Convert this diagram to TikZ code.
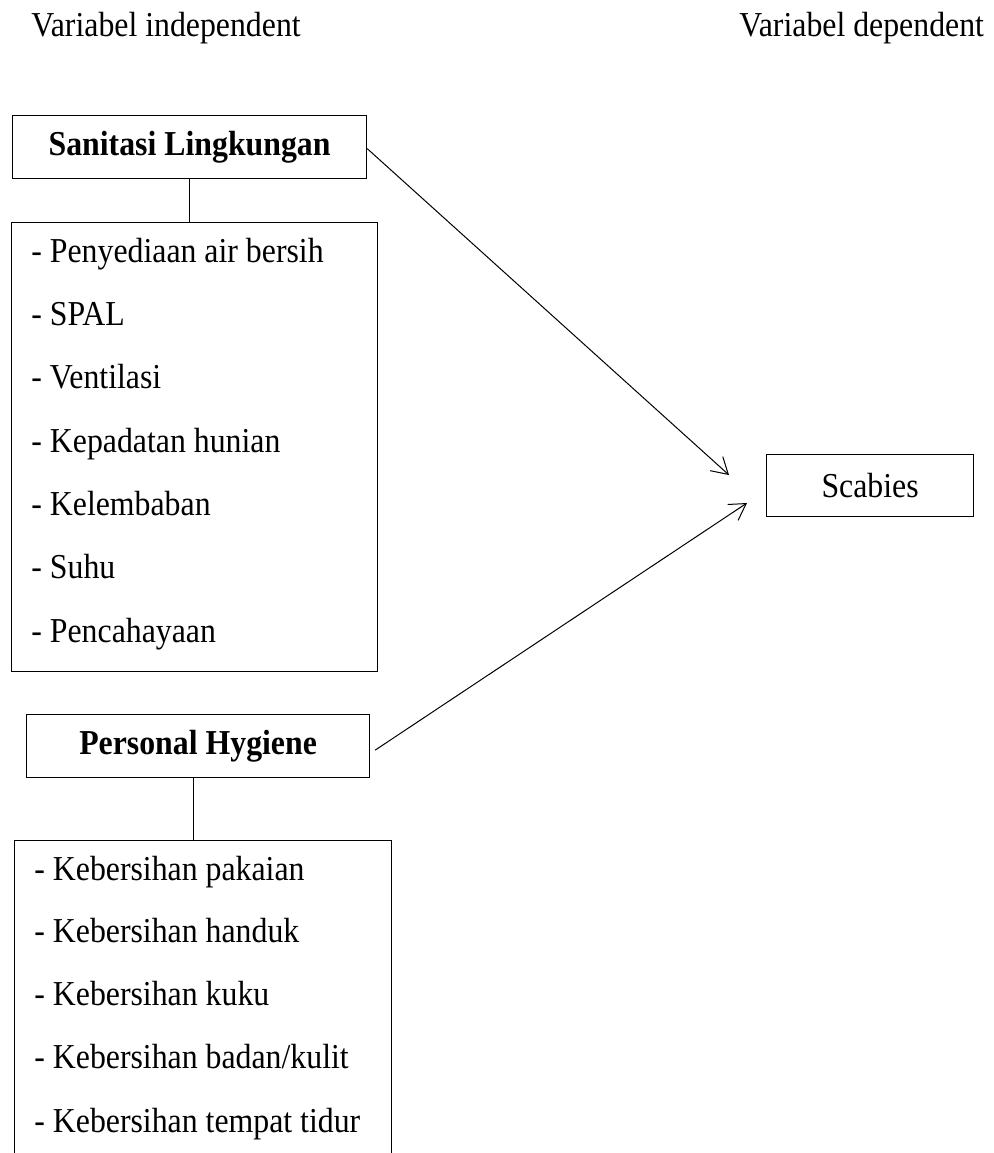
\documentclass[tikz,border=0pt]{standalone}
\usepackage{fontspec}
\usepackage{graphicx}
\setmainfont{Liberation Serif}
\usetikzlibrary{arrows.meta,calc}
\newcommand\vtx[1]{\scalebox{1}[1.1]{#1}}
\begin{document}
\begin{tikzpicture}[x=0.5pt,y=-0.5pt,
  box/.style={draw,line width=0.6pt,rectangle,inner sep=0pt,anchor=north west},
  item/.style={anchor=base west,inner sep=0pt},
  conn/.style={line width=0.5pt},
  arr/.style={line width=0.5pt,-{Straight Barb[length=8pt,width=9.5pt,line width=0.5pt]}},
  font=\fontsize{15.9pt}{19pt}\selectfont]
\useasboundingbox (0,0) rectangle (994,1153);
\clip (0,0) rectangle (994,1153);
% headers
\node[item] (hi) at (31,36) {\vtx{Variabel independent}};
\node[item] (hd) at (739,36) {\vtx{Variabel dependent}};
% boxes
\node[box,minimum width=177pt,minimum height=31.5pt] (sl) at (12,115) {\vtx{\textbf{Sanitasi Lingkungan}}};
\node[box,minimum width=183pt,minimum height=224.5pt] (l1) at (11,222) {};
\node[box,minimum width=171.5pt,minimum height=31.5pt] (ph) at (26,714) {\vtx{\textbf{Personal Hygiene}}};
\node[box,minimum width=188.5pt,minimum height=170pt] (l2) at (14,840) {};
\node[box,minimum width=103.5pt,minimum height=31pt] (sc) at (766,454) {\vtx{Scabies}};
% list 1
\node[item] (a1) at (31,262) {\vtx{- Penyediaan air bersih}};
\node[item] (a2) at (31,325) {\vtx{- SPAL}};
\node[item] (a3) at (31,388) {\vtx{- Ventilasi}};
\node[item] (a4) at (31,452) {\vtx{- Kepadatan hunian}};
\node[item] (a5) at (31,515) {\vtx{- Kelembaban}};
\node[item] (a6) at (31,578) {\vtx{- Suhu}};
\node[item] (a7) at (31,642) {\vtx{- Pencahayaan}};
% list 2
\node[item] (b1) at (34,880) {\vtx{- Kebersihan pakaian}};
\node[item] (b2) at (34,942) {\vtx{- Kebersihan handuk}};
\node[item] (b3) at (34,1005) {\vtx{- Kebersihan kuku}};
\node[item] (b4) at (34,1068) {\vtx{- Kebersihan badan/kulit}};
\node[item] (b5) at (34,1132) {\vtx{- Kebersihan tempat tidur}};
% connectors
\draw[conn] (sl.south) -- (sl.south |- l1.north);
\draw[conn] ([xshift=-2.25pt]ph.south) -- ([xshift=-2.25pt]ph.south |- l2.north);
\coordinate (t1) at (729,475);
\coordinate (t2) at (747,503);
\draw[arr] ([yshift=-0.75pt]sl.east) -- (t1);
\draw[arr] ([shift={(2.5pt,-2pt)}]ph.east) -- (t2);
\end{tikzpicture}
\end{document}
